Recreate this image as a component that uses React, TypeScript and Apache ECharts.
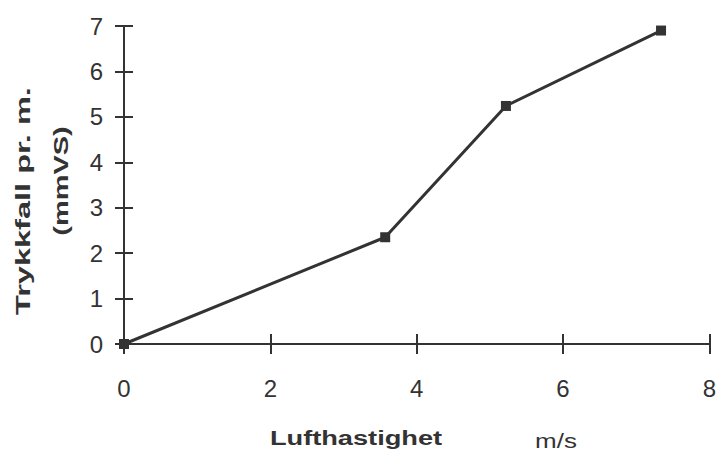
import React, { useEffect, useRef } from "react";
import * as echarts from "echarts";

const speedValues = [0, 3.57, 5.22, 7.34];
const pressureDrop = [0, 2.35, 5.24, 6.9];
const xTicks = { min: 0, max: 8, interval: 2 };
const yTicks = { min: 0, max: 7, interval: 1 };
const xTitle = "Lufthastighet";
const xUnit = "m/s";
const yTitle1 = "Trykkfall pr. m.";
const yTitle2 = "(mmVS)";

const INK = "#333333";
const FONT = "Liberation Sans, Arial, sans-serif";

export default function App() {
  const ref = useRef<HTMLDivElement>(null);
  useEffect(() => {
    if (!ref.current) return;
    const chart = echarts.init(ref.current, undefined, { renderer: "svg" });
    const data = speedValues.map((x, i) => [x, pressureDrop[i]]);
    const baseX = {
      type: "value" as const,
      min: xTicks.min,
      max: xTicks.max,
      interval: xTicks.interval,
      splitLine: { show: false },
    };
    const baseY = {
      type: "value" as const,
      min: yTicks.min,
      max: yTicks.max,
      interval: yTicks.interval,
      splitLine: { show: false },
    };
    chart.setOption({
      animation: false,
      backgroundColor: "#ffffff",
      grid: { left: 124, right: 4, top: 26, bottom: 109, containLabel: false },
      xAxis: [
        {
          ...baseX,
          position: "bottom",
          axisLine: { show: true, lineStyle: { color: INK, width: 2 } },
          axisTick: { show: true, inside: false, length: 10, lineStyle: { color: INK, width: 2 } },
          axisLabel: { show: true, margin: 32, fontSize: 24, color: INK, fontFamily: FONT },
        },
        {
          ...baseX,
          position: "bottom",
          axisLine: { show: false },
          axisTick: { show: true, inside: true, length: 10, lineStyle: { color: INK, width: 2 } },
          axisLabel: { show: false },
        },
      ],
      yAxis: [
        {
          ...baseY,
          position: "left",
          axisLine: { show: true, lineStyle: { color: INK, width: 2 } },
          axisTick: { show: true, inside: false, length: 9, lineStyle: { color: INK, width: 2 } },
          axisLabel: { show: true, margin: 21, fontSize: 24, color: INK, fontFamily: FONT },
        },
        {
          ...baseY,
          position: "left",
          axisLine: { show: false },
          axisTick: { show: true, inside: true, length: 9, lineStyle: { color: INK, width: 2 } },
          axisLabel: { show: false },
        },
      ],
      series: [
        {
          type: "line",
          xAxisIndex: 0,
          yAxisIndex: 0,
          data,
          symbol: "rect",
          symbolSize: 10,
          showSymbol: true,
          itemStyle: { color: INK },
          lineStyle: { color: INK, width: 3 },
        },
      ],
      graphic: [
        {
          type: "text",
          x: 356,
          y: 438,
          scaleX: 1.36,
          style: {
            text: xTitle,
            font: `bold 20px ${FONT}`,
            fill: INK,
            align: "center",
            verticalAlign: "middle",
          },
        },
        {
          type: "text",
          x: 556,
          y: 441,
          scaleX: 1.3,
          style: {
            text: xUnit,
            font: `20px ${FONT}`,
            fill: INK,
            align: "center",
            verticalAlign: "middle",
          },
        },
        {
          type: "text",
          x: 23,
          y: 201,
          rotation: Math.PI / 2,
          scaleX: 1.55,
          style: {
            text: yTitle1,
            font: `bold 21px ${FONT}`,
            fill: INK,
            align: "center",
            verticalAlign: "middle",
          },
        },
        {
          type: "text",
          x: 61,
          y: 181,
          rotation: Math.PI / 2,
          scaleX: 1.45,
          style: {
            text: yTitle2,
            font: `bold 20px ${FONT}`,
            fill: INK,
            align: "center",
            verticalAlign: "middle",
          },
        },
      ],
    });
    return () => chart.dispose();
  }, []);
  return <div ref={ref} style={{ width: 719, height: 453, position: "absolute", left: 0, top: 0 }} />;
}
